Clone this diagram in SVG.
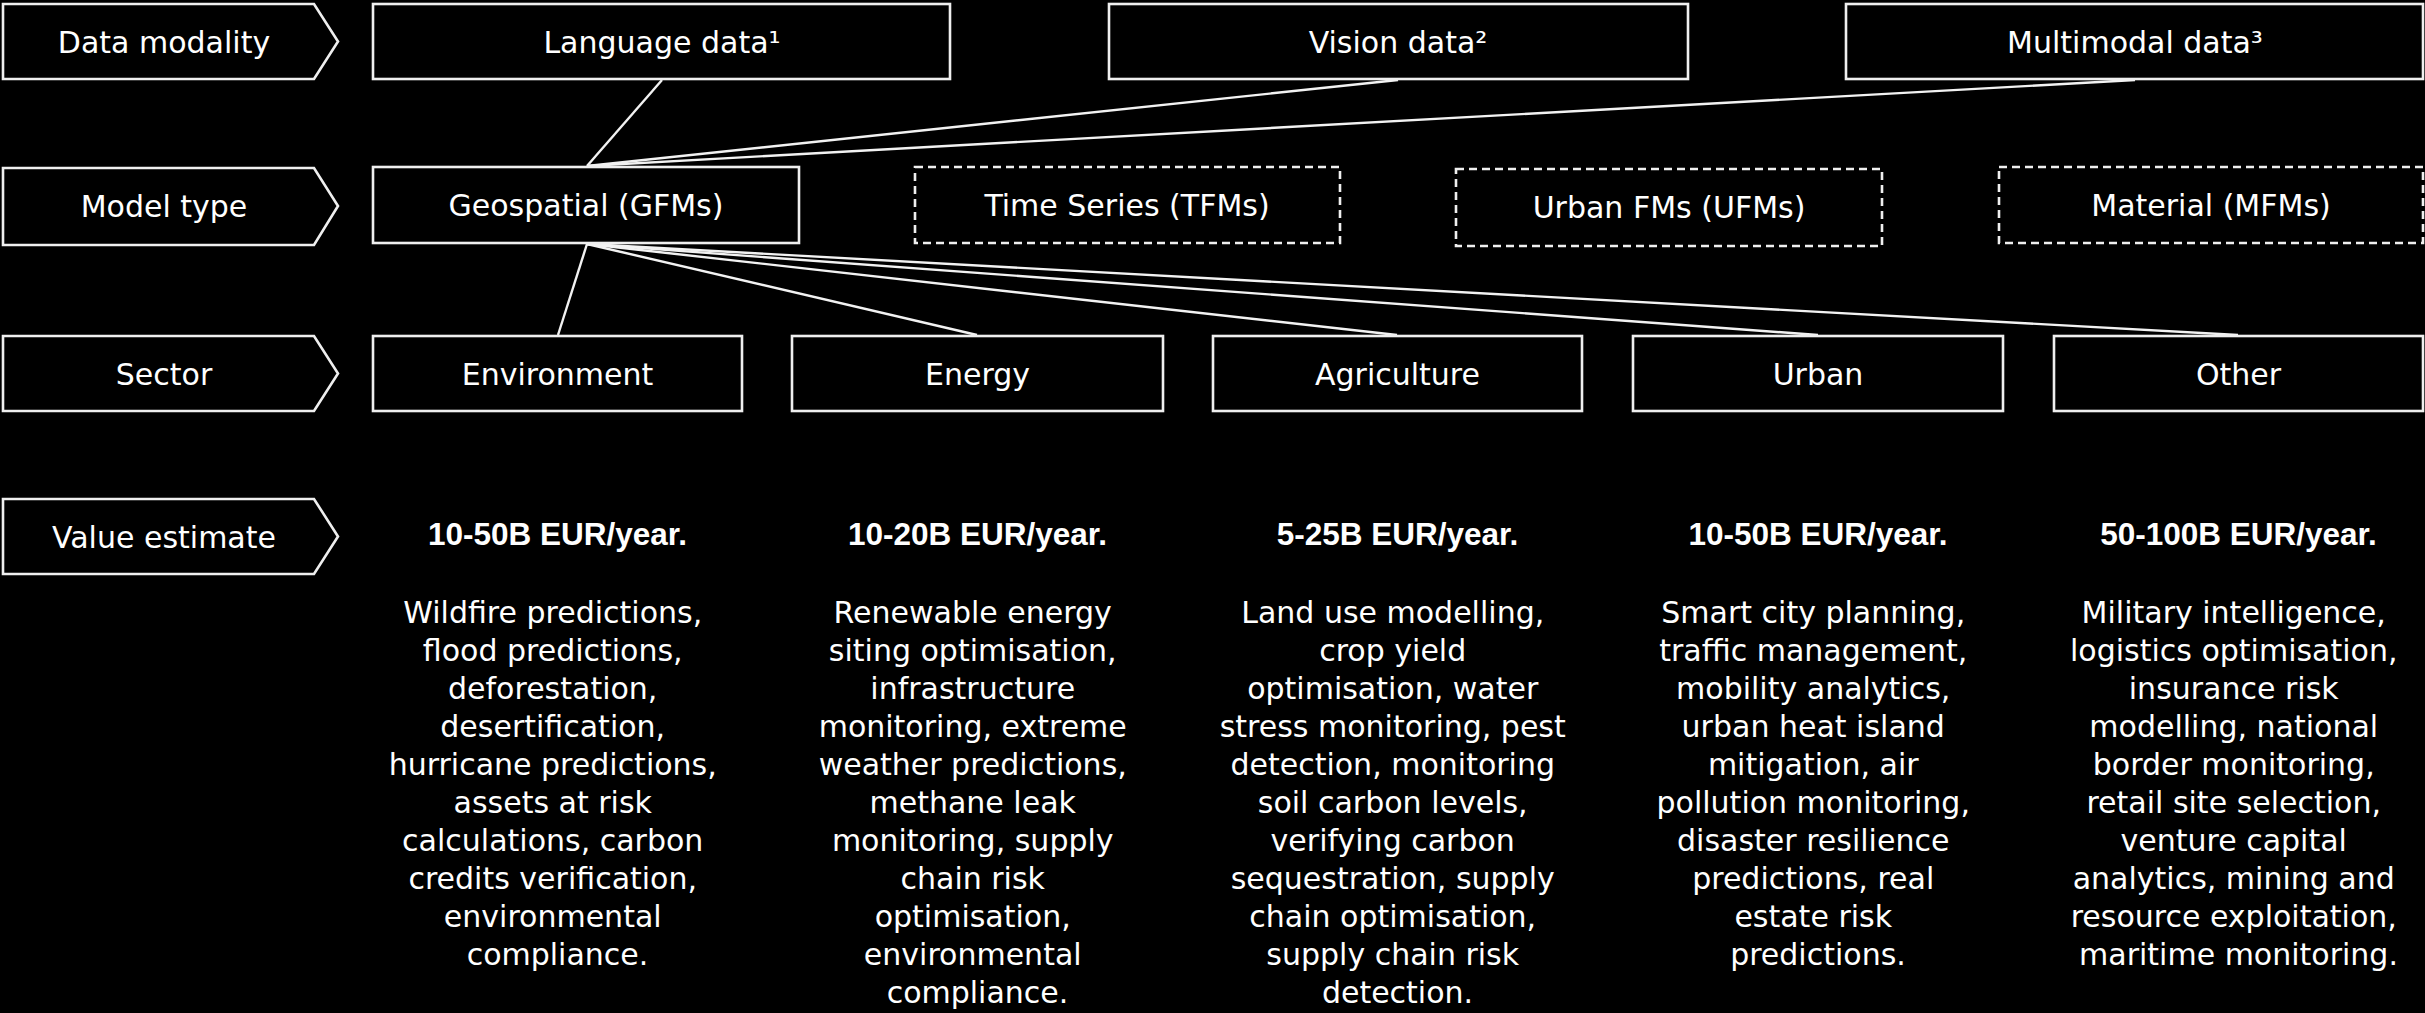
<svg xmlns="http://www.w3.org/2000/svg" width="2425" height="1013" viewBox="0 0 2425 1013">
  <style>
    .bg { fill: #000; }
    .box { fill: #000; stroke: #efefef; stroke-width: 2.6; }
    .dash { fill: #000; stroke: #efefef; stroke-width: 2.6; stroke-dasharray: 8 5; }
    .lbl { font-family: "DejaVu Sans", "Liberation Sans", sans-serif; font-size: 30px; fill: #fff; text-anchor: middle; }
    .val { font-family: "Liberation Sans", Arial, sans-serif; font-size: 31.5px; font-weight: bold; fill: #fff; text-anchor: middle; }
    .desc { font-family: "DejaVu Sans", "Liberation Sans", sans-serif; font-size: 30px; fill: #fff; text-anchor: middle; }
    .conn line { stroke: #f2f2f2; stroke-width: 2.4; }
  </style>
  <rect class="bg" x="0" y="0" width="2425" height="1013"/>

  <!-- connectors -->
  <g id="connectors" class="conn">
    <line x1="662" y1="80" x2="587" y2="166"/>
    <line x1="1398" y1="80" x2="587" y2="166"/>
    <line x1="2135" y1="80" x2="587" y2="166"/>
    <line x1="587" y1="244" x2="558" y2="335"/>
    <line x1="587" y1="244" x2="977" y2="335"/>
    <line x1="587" y1="244" x2="1397" y2="335"/>
    <line x1="587" y1="244" x2="1818" y2="335"/>
    <line x1="587" y1="244" x2="2238" y2="335"/>
  </g>

  <!-- row headers -->
  <g id="hdr-modality">
    <path class="box" d="M3 4 H314 L338 41.5 L314 79 H3 Z"/>
    <text class="lbl" x="164" y="53">Data modality</text>
  </g>
  <g id="hdr-model">
    <path class="box" d="M3 168 H314 L338 206 L314 245 H3 Z"/>
    <text class="lbl" x="164" y="217">Model type</text>
  </g>
  <g id="hdr-sector">
    <path class="box" d="M3 336 H314 L338 373.5 L314 411 H3 Z"/>
    <text class="lbl" x="164" y="385">Sector</text>
  </g>
  <g id="hdr-value">
    <path class="box" d="M3 499 H314 L338 536.5 L314 574 H3 Z"/>
    <text class="lbl" x="164" y="548">Value estimate</text>
  </g>

  <!-- data modality -->
  <g id="language-data">
    <rect class="box" x="373" y="4" width="577" height="75"/>
    <text class="lbl" x="662" y="53">Language data¹</text>
  </g>
  <g id="vision-data">
    <rect class="box" x="1109" y="4" width="579" height="75"/>
    <text class="lbl" x="1398" y="53">Vision data²</text>
  </g>
  <g id="multimodal-data">
    <rect class="box" x="1846" y="4" width="577" height="75"/>
    <text class="lbl" x="2135" y="53">Multimodal data³</text>
  </g>

  <!-- model types -->
  <g id="geospatial">
    <rect class="box" x="373" y="167" width="426" height="76"/>
    <text class="lbl" x="586" y="216">Geospatial (GFMs)</text>
  </g>
  <g id="time-series">
    <rect class="dash" x="915" y="167" width="425" height="76"/>
    <text class="lbl" x="1127" y="216">Time Series (TFMs)</text>
  </g>
  <g id="urban-fms">
    <rect class="dash" x="1456" y="169" width="426" height="77"/>
    <text class="lbl" x="1669" y="218">Urban FMs (UFMs)</text>
  </g>
  <g id="material">
    <rect class="dash" x="1999" y="167" width="424" height="76"/>
    <text class="lbl" x="2211" y="216">Material (MFMs)</text>
  </g>

  <!-- sectors -->
  <g id="environment">
    <rect class="box" x="373" y="336" width="369" height="75"/>
    <text class="lbl" x="557.5" y="385">Environment</text>
  </g>
  <g id="energy">
    <rect class="box" x="792" y="336" width="371" height="75"/>
    <text class="lbl" x="977.5" y="385">Energy</text>
  </g>
  <g id="agriculture">
    <rect class="box" x="1213" y="336" width="369" height="75"/>
    <text class="lbl" x="1397.5" y="385">Agriculture</text>
  </g>
  <g id="urban">
    <rect class="box" x="1633" y="336" width="370" height="75"/>
    <text class="lbl" x="1818" y="385">Urban</text>
  </g>
  <g id="other">
    <rect class="box" x="2054" y="336" width="369" height="75"/>
    <text class="lbl" x="2238.5" y="385">Other</text>
  </g>

  <!-- value estimates -->
  <g id="value-environment">
    <text class="val" x="557.5" y="545">10-50B EUR/year.</text>
    <text class="desc">
      <tspan x="557.5" y="623">Wildfire predictions,</tspan>
      <tspan x="557.5" y="661">flood predictions,</tspan>
      <tspan x="557.5" y="699">deforestation,</tspan>
      <tspan x="557.5" y="737">desertification,</tspan>
      <tspan x="557.5" y="775">hurricane predictions,</tspan>
      <tspan x="557.5" y="813">assets at risk</tspan>
      <tspan x="557.5" y="851">calculations, carbon</tspan>
      <tspan x="557.5" y="889">credits verification,</tspan>
      <tspan x="557.5" y="927">environmental</tspan>
      <tspan x="557.5" y="965">compliance.</tspan>
    </text>
  </g>
  <g id="value-energy">
    <text class="val" x="977.5" y="545">10-20B EUR/year.</text>
    <text class="desc">
      <tspan x="977.5" y="623">Renewable energy</tspan>
      <tspan x="977.5" y="661">siting optimisation,</tspan>
      <tspan x="977.5" y="699">infrastructure</tspan>
      <tspan x="977.5" y="737">monitoring, extreme</tspan>
      <tspan x="977.5" y="775">weather predictions,</tspan>
      <tspan x="977.5" y="813">methane leak</tspan>
      <tspan x="977.5" y="851">monitoring, supply</tspan>
      <tspan x="977.5" y="889">chain risk</tspan>
      <tspan x="977.5" y="927">optimisation,</tspan>
      <tspan x="977.5" y="965">environmental</tspan>
      <tspan x="977.5" y="1003">compliance.</tspan>
    </text>
  </g>
  <g id="value-agriculture">
    <text class="val" x="1397.5" y="545">5-25B EUR/year.</text>
    <text class="desc">
      <tspan x="1397.5" y="623">Land use modelling,</tspan>
      <tspan x="1397.5" y="661">crop yield</tspan>
      <tspan x="1397.5" y="699">optimisation, water</tspan>
      <tspan x="1397.5" y="737">stress monitoring, pest</tspan>
      <tspan x="1397.5" y="775">detection, monitoring</tspan>
      <tspan x="1397.5" y="813">soil carbon levels,</tspan>
      <tspan x="1397.5" y="851">verifying carbon</tspan>
      <tspan x="1397.5" y="889">sequestration, supply</tspan>
      <tspan x="1397.5" y="927">chain optimisation,</tspan>
      <tspan x="1397.5" y="965">supply chain risk</tspan>
      <tspan x="1397.5" y="1003">detection.</tspan>
    </text>
  </g>
  <g id="value-urban">
    <text class="val" x="1818" y="545">10-50B EUR/year.</text>
    <text class="desc">
      <tspan x="1818" y="623">Smart city planning,</tspan>
      <tspan x="1818" y="661">traffic management,</tspan>
      <tspan x="1818" y="699">mobility analytics,</tspan>
      <tspan x="1818" y="737">urban heat island</tspan>
      <tspan x="1818" y="775">mitigation, air</tspan>
      <tspan x="1818" y="813">pollution monitoring,</tspan>
      <tspan x="1818" y="851">disaster resilience</tspan>
      <tspan x="1818" y="889">predictions, real</tspan>
      <tspan x="1818" y="927">estate risk</tspan>
      <tspan x="1818" y="965">predictions.</tspan>
    </text>
  </g>
  <g id="value-other">
    <text class="val" x="2238.5" y="545">50-100B EUR/year.</text>
    <text class="desc">
      <tspan x="2238.5" y="623">Military intelligence,</tspan>
      <tspan x="2238.5" y="661">logistics optimisation,</tspan>
      <tspan x="2238.5" y="699">insurance risk</tspan>
      <tspan x="2238.5" y="737">modelling, national</tspan>
      <tspan x="2238.5" y="775">border monitoring,</tspan>
      <tspan x="2238.5" y="813">retail site selection,</tspan>
      <tspan x="2238.5" y="851">venture capital</tspan>
      <tspan x="2238.5" y="889">analytics, mining and</tspan>
      <tspan x="2238.5" y="927">resource exploitation,</tspan>
      <tspan x="2238.5" y="965">maritime monitoring.</tspan>
    </text>
  </g>
</svg>
